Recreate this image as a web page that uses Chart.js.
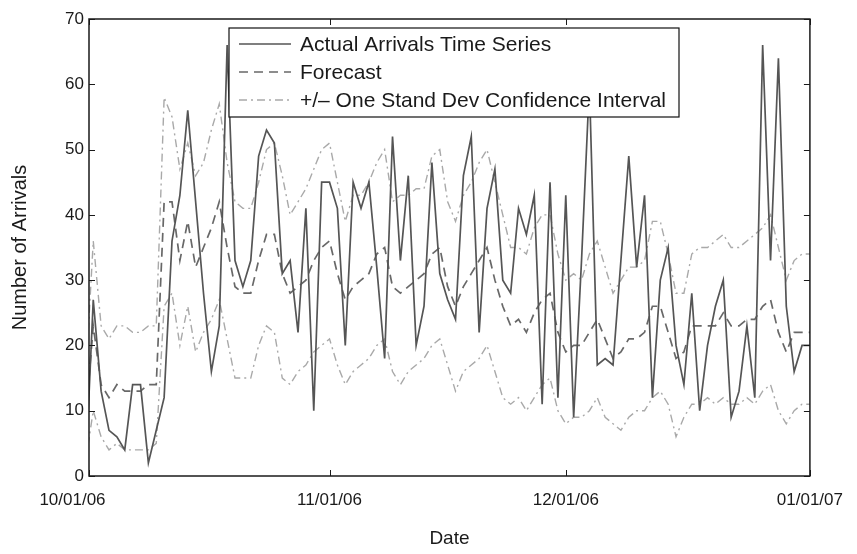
<!DOCTYPE html>
<html>
<head>
<meta charset="utf-8">
<script src="https://cdn.jsdelivr.net/npm/chart.js@4.4.0/dist/chart.umd.min.js"></script>
<style>
  html, body { margin: 0; padding: 0; background: #fff; }
  #wrap { width: 857px; height: 554px; }
</style>
</head>
<body>
<div id="wrap"><canvas id="chart" width="857" height="554"></canvas></div>
<script>
// Daily arrivals, day 0 = 10/01/06 ... day 92 = 01/01/07
const actual = [
    0, 27, 13, 7, 6, 4, 14, 14, 2, 7,
    12, 36, 43, 56, 42, 28, 16, 23, 66, 33,
    29, 33, 49, 53, 51, 31, 33, 22, 41, 10,
    45, 45, 41, 20, 45, 41, 45, 32, 18, 52,
    33, 46, 20, 26, 48, 31, 27, 24, 46, 52,
    22, 41, 47, 30, 28, 41, 37, 43, 11, 45,
    12, 43, 9, 33, 60, 17, 18, 17, 33, 49,
    32, 43, 12, 30, 35, 20, 14, 28, 10, 20,
    26, 30, 9, 13, 23, 12, 66, 33, 64, 26,
    16, 20, 20
];
const forecast = [
    8, 23, 14, 12, 14, 13, 13, 13, 14, 14,
    42, 42, 33, 39, 32, 35, 38, 42, 35, 29,
    28, 28, 33, 37, 37, 31, 28, 29, 30, 33,
    35, 36, 31, 27, 29, 30, 31, 34, 35, 29,
    28, 29, 30, 31, 34, 35, 29, 26, 29, 31,
    33, 35, 30, 26, 23, 24, 22, 25, 27, 28,
    22, 19, 20, 20, 22, 24, 21, 18, 19, 21,
    21, 22, 26, 26, 22, 18, 19, 23, 23, 23,
    23, 25, 23, 23, 24, 24, 26, 27, 22, 19,
    22, 22, 22
];
const upperBand = [
    14, 36, 23, 21, 23, 23, 22, 22, 23, 23,
    58, 55, 47, 51, 46, 48, 53, 57, 48, 42,
    41, 41, 45, 50, 51, 46, 40, 42, 44, 47,
    50, 51, 45, 39, 43, 43, 45, 48, 50, 42,
    43, 43, 44, 44, 49, 50, 42, 39, 43, 45,
    48, 50, 45, 40, 35, 35, 34, 38, 40, 40,
    34, 30, 31, 30, 34, 36, 32, 28, 30, 32,
    32, 33, 39, 39, 34, 28, 28, 34, 35, 35,
    36, 37, 35, 35, 36, 37, 38, 40, 35, 30,
    33, 34, 34
];
const lowerBand = [
    2, 10, 6, 4, 5, 4, 4, 4, 4, 5,
    26, 28, 20, 26, 19, 22, 24, 27, 21, 15,
    15, 15, 20, 23, 22, 15, 14, 16, 17, 19,
    20, 21, 17, 14, 16, 17, 18, 20, 21, 16,
    14, 16, 17, 18, 20, 21, 17, 13, 16, 17,
    18, 20, 16, 12, 11, 12, 10, 12, 14, 15,
    10, 8, 9, 9, 10, 12, 9, 8, 7, 9,
    10, 10, 12, 13, 11, 6, 9, 11, 11, 12,
    11, 12, 11, 11, 12, 11, 13, 14, 10, 8,
    10, 11, 11
];

const tickDays = [0, 31, 61, 92];
const tickLabels = ['10/01/06', '11/01/06', '12/01/06', '01/01/07'];
const seriesNames = ['Actual Arrivals Time Series', 'Forecast', '+/\u2013 One Stand Dev Confidence Interval'];

const X_MIN = 0.46;
const FONT = '"Liberation Sans", Arial, Helvetica, sans-serif';

const toPoints = arr => arr.map((v, i) => ({ x: i, y: v }));

// inward tick marks + axis box, matlab style
const boxPlugin = {
    id: 'boxTicks',
    afterDraw(chart) {
        const { ctx, chartArea: a, scales } = chart;
        ctx.save();
        ctx.strokeStyle = '#1a1a1a';
        ctx.lineWidth = 1;
        const len = 6;
        ctx.beginPath();
        scales.x.ticks.forEach(t => {
            const px = Math.round(scales.x.getPixelForValue(t.value)) + 0.5;
            ctx.moveTo(px, a.bottom); ctx.lineTo(px, a.bottom - len);
            ctx.moveTo(px, a.top); ctx.lineTo(px, a.top + len);
        });
        scales.y.ticks.forEach(t => {
            const py = Math.round(scales.y.getPixelForValue(t.value)) + 0.5;
            ctx.moveTo(a.left, py); ctx.lineTo(a.left + len, py);
            ctx.moveTo(a.right, py); ctx.lineTo(a.right - len, py);
        });
        ctx.stroke();
        ctx.lineWidth = 1.5;
        ctx.strokeRect(a.left, a.top, a.right - a.left, a.bottom - a.top);
        ctx.restore();
    }
};

// boxed legend in the top of the plot
const legendPlugin = {
    id: 'boxLegend',
    afterDraw(chart) {
        const { ctx, chartArea: a } = chart;
        const bx = a.left + 140, by = a.top + 9, bw = 450, bh = 89;
        ctx.save();
        ctx.fillStyle = '#fff';
        ctx.fillRect(bx, by, bw, bh);
        ctx.strokeStyle = '#111';
        ctx.lineWidth = 1.2;
        ctx.strokeRect(bx, by, bw, bh);
        ctx.font = '21px ' + FONT;
        ctx.textBaseline = 'middle';
        seriesNames.forEach((name, i) => {
            const ds = chart.data.datasets[i];
            const cy = by + 16 + i * 28;
            ctx.strokeStyle = ds.borderColor;
            ctx.lineWidth = ds.borderWidth;
            ctx.setLineDash(ds.borderDash || []);
            ctx.beginPath();
            ctx.moveTo(bx + 10, cy);
            ctx.lineTo(bx + 62, cy);
            ctx.stroke();
            ctx.setLineDash([]);
            ctx.fillStyle = '#1a1a1a';
            ctx.fillText(name, bx + 71, cy + 1);
        });
        ctx.restore();
    }
};

const ctx = document.getElementById('chart').getContext('2d');
new Chart(ctx, {
    type: 'line',
    data: {
        datasets: [
            {
                label: seriesNames[0],
                data: toPoints(actual),
                borderColor: '#555555',
                borderWidth: 1.7,
                pointRadius: 0,
                tension: 0
            },
            {
                label: seriesNames[1],
                data: toPoints(forecast),
                borderColor: '#686868',
                borderWidth: 1.7,
                borderDash: [9, 6],
                pointRadius: 0,
                tension: 0
            },
            {
                label: seriesNames[2],
                data: toPoints(upperBand),
                borderColor: '#a9a9a9',
                borderWidth: 1.4,
                borderDash: [8, 4, 2, 4],
                pointRadius: 0,
                tension: 0
            },
            {
                label: 'lower',
                data: toPoints(lowerBand),
                borderColor: '#a9a9a9',
                borderWidth: 1.4,
                borderDash: [8, 4, 2, 4],
                pointRadius: 0,
                tension: 0
            }
        ]
    },
    options: {
        responsive: false,
        animation: false,
        devicePixelRatio: 1,
        layout: { padding: { top: 19, right: 43, left: 0, bottom: 0 } },
        plugins: {
            legend: { display: false },
            tooltip: { enabled: false }
        },
        scales: {
            x: {
                type: 'linear',
                min: X_MIN,
                max: 92,
                grid: { display: false, drawTicks: false },
                border: { display: false },
                afterBuildTicks: scale => {
                    scale.ticks = tickDays.map(d => ({ value: Math.max(d, X_MIN) }));
                },
                afterFit: scale => { scale.height = 78; },
                ticks: {
                    autoSkip: false,
                    maxRotation: 0,
                    padding: 14,
                    color: '#1a1a1a',
                    font: { family: FONT, size: 17 },
                    // first label sits a bit left of the axis corner
                    callback: (v, i) => i === 0 ? tickLabels[i] + '\u00a0'.repeat(7) : tickLabels[i]
                },
                title: {
                    display: true,
                    text: 'Date',
                    color: '#1a1a1a',
                    font: { family: FONT, size: 19 },
                    padding: { top: 0, bottom: 4 }
                }
            },
            y: {
                min: 0,
                max: 70,
                grid: { display: false, drawTicks: false },
                border: { display: false },
                afterFit: scale => { scale.width = 89; },
                ticks: {
                    stepSize: 10,
                    padding: 5,
                    color: '#1a1a1a',
                    font: { family: FONT, size: 17 }
                },
                title: {
                    display: true,
                    text: 'Number of Arrivals',
                    color: '#1a1a1a',
                    font: { family: FONT, size: 20 },
                    padding: { top: 8, bottom: 0 }
                }
            }
        }
    },
    plugins: [boxPlugin, legendPlugin]
});
</script>
</body>
</html>
